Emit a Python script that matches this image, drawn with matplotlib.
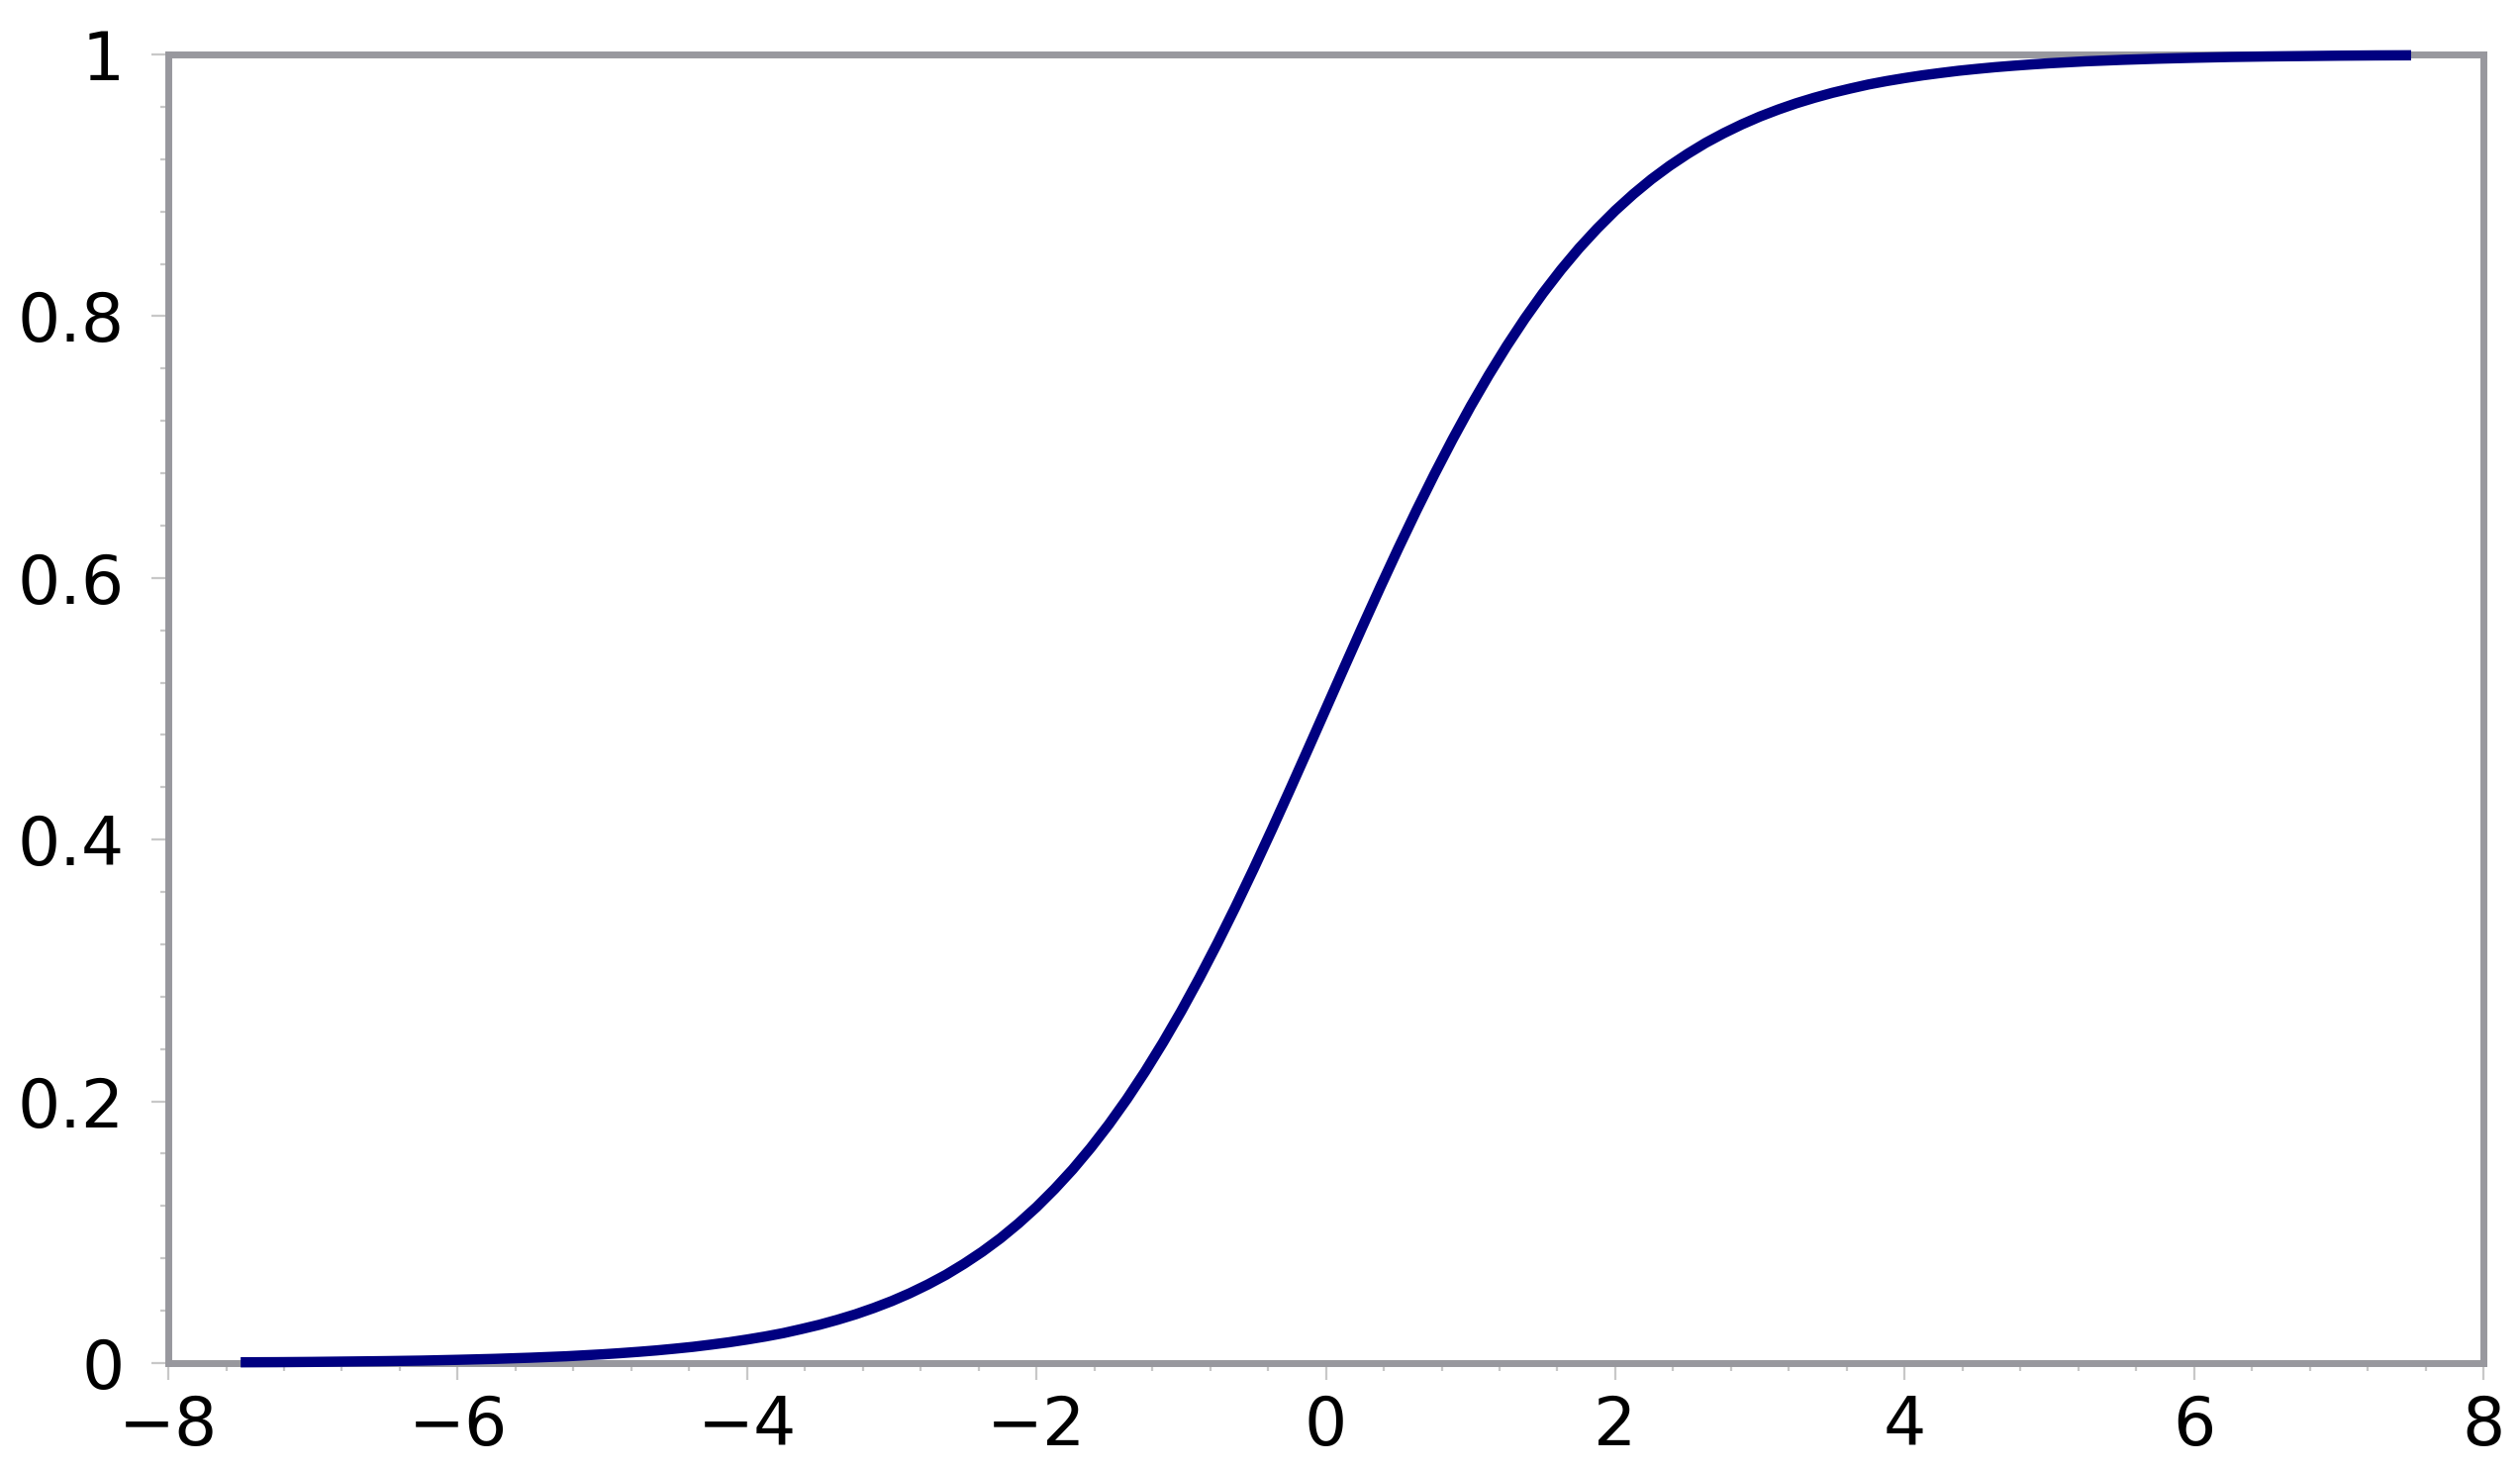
import matplotlib
matplotlib.use("Agg")
import matplotlib.pyplot as plt
from matplotlib.ticker import MultipleLocator

x_vals = [-7.5, -7.25, -7.0, -6.75, -6.5, -6.25, -6.0, -5.75, -5.5, -5.25,
          -5.0, -4.875, -4.75, -4.625, -4.5, -4.375, -4.25, -4.125,
          -4.0, -3.875, -3.75, -3.625, -3.5, -3.375, -3.25, -3.125,
          -3.0, -2.875, -2.75, -2.625, -2.5, -2.375, -2.25, -2.125,
          -2.0, -1.875, -1.75, -1.625, -1.5, -1.375, -1.25, -1.125,
          -1.0, -0.875, -0.75, -0.625, -0.5, -0.375, -0.25, -0.125,
          0.0, 0.125, 0.25, 0.375, 0.5, 0.625, 0.75, 0.875,
          1.0, 1.125, 1.25, 1.375, 1.5, 1.625, 1.75, 1.875,
          2.0, 2.125, 2.25, 2.375, 2.5, 2.625, 2.75, 2.875,
          3.0, 3.125, 3.25, 3.375, 3.5, 3.625, 3.75, 3.875,
          4.0, 4.125, 4.25, 4.375, 4.5, 4.625, 4.75, 4.875,
          5.0, 5.25, 5.5, 5.75, 6.0, 6.25, 6.5, 6.75, 7.0, 7.25, 7.5]
y_vals = [0.0006, 0.0007, 0.0009, 0.0012, 0.0015, 0.0019, 0.0025, 0.0032, 0.0041, 0.0052,
          0.0067, 0.0076, 0.0086, 0.0097, 0.0110, 0.0124, 0.0141, 0.0159,
          0.0180, 0.0203, 0.0229, 0.0260, 0.0293, 0.0331, 0.0373, 0.0421,
          0.0474, 0.0534, 0.0601, 0.0675, 0.0759, 0.0851, 0.0953, 0.1067,
          0.1192, 0.1330, 0.1480, 0.1645, 0.1824, 0.2018, 0.2227, 0.2451,
          0.2689, 0.2942, 0.3208, 0.3486, 0.3775, 0.4073, 0.4378, 0.4688,
          0.5000, 0.5312, 0.5622, 0.5927, 0.6225, 0.6514, 0.6792, 0.7058,
          0.7311, 0.7549, 0.7773, 0.7982, 0.8176, 0.8355, 0.8520, 0.8670,
          0.8808, 0.8933, 0.9047, 0.9149, 0.9241, 0.9325, 0.9399, 0.9466,
          0.9526, 0.9579, 0.9627, 0.9669, 0.9707, 0.9740, 0.9771, 0.9797,
          0.9820, 0.9841, 0.9859, 0.9876, 0.9890, 0.9903, 0.9914, 0.9924,
          0.9933, 0.9948, 0.9959, 0.9968, 0.9975, 0.9981, 0.9985, 0.9988, 0.9991, 0.9993, 0.9994]
x_ticks = [-8, -6, -4, -2, 0, 2, 4, 6, 8]
y_ticks = [0, 0.2, 0.4, 0.6, 0.8, 1]
y_tick_labels = ["0", "0.2", "0.4", "0.6", "0.8", "1"]

fig = plt.figure(figsize=(25.46, 14.84), dpi=100)
ax = fig.add_axes([0.0668, 0.0721, 0.9187, 0.8908])
ax.plot(x_vals, y_vals, color="#000080", linewidth=7.5, solid_capstyle="butt",
        solid_joinstyle="round", clip_on=False, zorder=5)
ax.set_xlim(-8, 8)
ax.set_ylim(0, 1)
ax.set_xticks(x_ticks)
ax.set_xticklabels(["\u2212" + str(-t) if t < 0 else str(t) for t in x_ticks])
ax.set_yticks(y_ticks)
ax.set_yticklabels(y_tick_labels)
ax.xaxis.set_minor_locator(MultipleLocator(0.4))
ax.yaxis.set_minor_locator(MultipleLocator(0.04))
for s in ax.spines.values():
    s.set_color("#98989e")
    s.set_linewidth(5)
    s.set_zorder(4)
ax.tick_params(which="major", direction="out", length=12, width=1.6, color="#c8c8c8",
               labelsize=49, pad=10, labelcolor="black")
ax.tick_params(which="minor", direction="out", length=6, width=1.6, color="#c8c8c8")
ax.tick_params(axis="y", which="major", pad=20)
fig.savefig("out.png", dpi=100, facecolor="white")
